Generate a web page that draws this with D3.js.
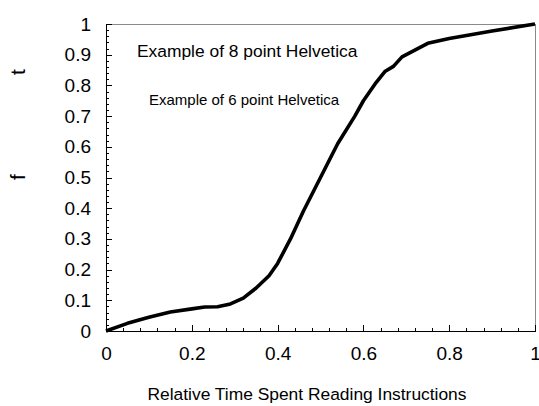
<!DOCTYPE html>
<html>
<head>
<meta charset="utf-8">
<script src="https://cdn.jsdelivr.net/npm/d3@7"></script>
<style>
    body { margin: 0; background: #fff; }
    svg { display: block; font-family: "Liberation Sans", Arial, Helvetica, sans-serif; }
    .axis path, .axis line { stroke: #000; stroke-width: 1; shape-rendering: crispEdges; }
    .axis text { fill: #000; }
</style>
</head>
<body>
<div id="chart"></div>
<script>
// values
const xs = [0, 0.05, 0.1, 0.15, 0.2, 0.23, 0.26, 0.29, 0.32, 0.35, 0.38, 0.4, 0.43, 0.46, 0.5,
    0.54, 0.58, 0.6, 0.63, 0.65, 0.67, 0.69, 0.72, 0.75, 0.8, 0.9, 1.0]
const ys = [0, 0.025, 0.045, 0.062, 0.072, 0.078, 0.079, 0.088, 0.107, 0.14, 0.18, 0.22, 0.3, 0.39, 0.5,
    0.61, 0.7, 0.75, 0.81, 0.845, 0.862, 0.893, 0.915, 0.937, 0.953, 0.977, 1.0]
const xTicks = [0, 0.2, 0.4, 0.6, 0.8, 1]
const yTicks = [0, 0.1, 0.2, 0.3, 0.4, 0.5, 0.6, 0.7, 0.8, 0.9, 1]
const xTitle = 'Relative Time Spent Reading Instructions'
const yTitleBits = ['t', 'f']
const notes = ['Example of 8 point Helvetica', 'Example of 6 point Helvetica']

const width = 539
const height = 406
const margin = {left: 106, top: 24, right: 4, bottom: 75}
const w = width - margin.left - margin.right
const h = height - margin.top - margin.bottom

const svg = d3.select('#chart')
    .append('svg')
    .attr('width', width)
    .attr('height', height)

const g = svg.append('g')
    .attr('transform', `translate(${margin.left}, ${margin.top})`)

const xScale = d3.scaleLinear().domain([0, 1]).range([0, w])
const yScale = d3.scaleLinear().domain([0, 1]).range([h, 0])

// frame: top and right in gray
g.append('line')
    .attr('x1', 0).attr('x2', w).attr('y1', 0).attr('y2', 0)
    .attr('stroke', '#8a8a8a').attr('shape-rendering', 'crispEdges')
g.append('line')
    .attr('x1', w).attr('x2', w).attr('y1', 0).attr('y2', h)
    .attr('stroke', '#8a8a8a').attr('shape-rendering', 'crispEdges')

// minor ticks
g.append('g')
    .attr('class', 'axis')
    .call(d3.axisLeft(yScale).tickValues(d3.range(0, 1.001, 0.02)).tickSizeInner(-3).tickSizeOuter(0).tickFormat(''))
g.append('g')
    .attr('class', 'axis')
    .attr('transform', `translate(0, ${h})`)
    .call(d3.axisBottom(xScale).tickValues(d3.range(0, 1.001, 0.04)).tickSizeInner(-3).tickSizeOuter(0).tickFormat(''))

// major ticks + labels
g.append('g')
    .attr('class', 'axis')
    .call(d3.axisLeft(yScale).tickValues(yTicks).tickSizeInner(-6).tickSizeOuter(0).tickPadding(15).tickFormat(d3.format('')))
    .attr('font-size', 19)
    .attr('font-family', null)

g.append('g')
    .attr('class', 'axis')
    .attr('transform', `translate(0, ${h})`)
    .call(d3.axisBottom(xScale).tickValues(xTicks).tickSizeInner(-6).tickSizeOuter(0).tickPadding(16).tickFormat(d3.format('')))
    .attr('font-size', 19)
    .attr('font-family', null)

// curve
const line = d3.line()
    .x(d => xScale(d[0]))
    .y(d => yScale(d[1]))

g.append('path')
    .datum(xs.map((x, i) => [x, ys[i]]))
    .attr('fill', 'none')
    .attr('stroke', '#000')
    .attr('stroke-width', 3.6)
    .attr('stroke-linejoin', 'round')
    .attr('d', line)

// annotations
g.append('text')
    .attr('x', 31).attr('y', 33)
    .attr('font-size', 17.4)
    .text(notes[0])
g.append('text')
    .attr('x', 43).attr('y', 81)
    .attr('font-size', 15)
    .text(notes[1])

// axis titles
svg.append('text')
    .attr('x', 307).attr('y', 400)
    .attr('text-anchor', 'middle')
    .attr('font-size', 17.4)
    .text(xTitle)

yTitleBits.forEach((t, i) => {
    svg.append('text')
        .attr('transform', `translate(25, ${[72, 177][i]}) rotate(-90)`)
        .attr('text-anchor', 'middle')
        .attr('font-size', 21)
        .text(t)
})
</script>
</body>
</html>
